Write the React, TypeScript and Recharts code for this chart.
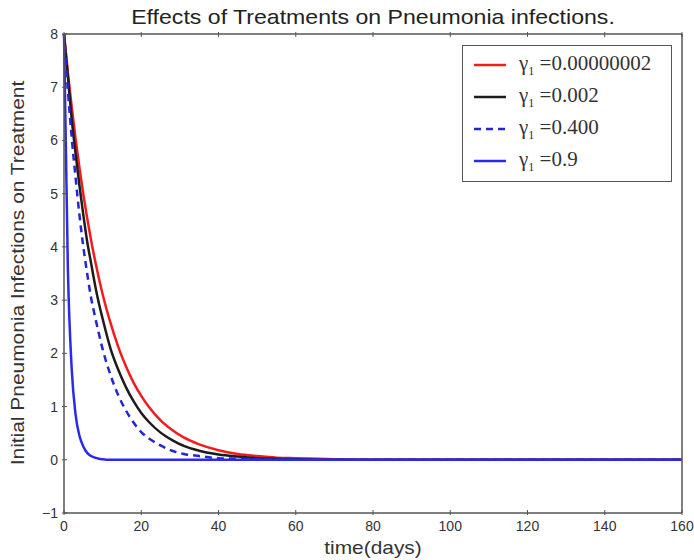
import React from "react"
import { LineChart, Line, XAxis, YAxis } from "recharts"

// days sampled along the curves
const days = [0, 1, 2, 3, 4, 5, 6, 7, 8, 9, 10, 12, 14, 16, 18, 20, 22, 25, 28, 31, 35, 40, 45, 50, 55, 60, 70, 80, 90, 100, 120, 140, 160]

// values
const gammaTiny = [8, 7.28, 6.63, 6.03, 5.49, 4.99, 4.54, 4.13, 3.76, 3.42, 3.11, 2.58, 2.13, 1.76, 1.45, 1.2, 0.99, 0.74, 0.56, 0.42, 0.29, 0.18, 0.11, 0.07, 0.04, 0.03, 0.01, 0, 0, 0, 0, 0, 0]
const gammaSmall = [8, 7.2, 6.4, 5.75, 5.15, 4.6, 4.1, 3.7, 3.3, 2.95, 2.65, 2.1, 1.7, 1.37, 1.1, 0.88, 0.71, 0.51, 0.37, 0.26, 0.17, 0.1, 0.06, 0.03, 0.02, 0.01, 0, 0, 0, 0, 0, 0, 0]
const gammaMid = [8, 6.95, 6.05, 5.3, 4.6, 4.0, 3.5, 3.05, 2.7, 2.38, 2.08, 1.6, 1.22, 0.93, 0.7, 0.52, 0.4, 0.27, 0.17, 0.11, 0.07, 0.03, 0.02, 0.01, 0, 0, 0, 0, 0, 0, 0, 0, 0]
const gammaHigh = [8, 3.6, 1.7, 0.85, 0.45, 0.25, 0.13, 0.07, 0.04, 0.02, 0.01, 0, 0, 0, 0, 0, 0, 0, 0, 0, 0, 0, 0, 0, 0, 0, 0, 0, 0, 0, 0, 0, 0]

const xTicks = [0, 20, 40, 60, 80, 100, 120, 140, 160]
const yTicks = [-1, 0, 1, 2, 3, 4, 5, 6, 7, 8]

const series = [
  { key: "tiny", label: "0.00000002", color: "#f21c1c", dash: undefined },
  { key: "small", label: "0.002", color: "#1c1c1c", dash: undefined },
  { key: "mid", label: "0.400", color: "#2424d8", dash: "7 5" },
  { key: "high", label: "0.9", color: "#2a2aee", dash: undefined },
]

const data = days.map((d, i) => ({
  day: d,
  tiny: gammaTiny[i],
  small: gammaSmall[i],
  mid: gammaMid[i],
  high: gammaHigh[i],
}))

const axisColor = "#555"
const labelColor = "#333"
const sans = "'Liberation Sans', Arial, sans-serif"

const fmt = (v: number) => (v < 0 ? "\u2212" + Math.abs(v) : String(v))

function BottomTick({ x, y, payload }: any) {
  return (
    <g>
      <line x1={x} x2={x} y1={y} y2={y - 5} stroke={axisColor} />
      <text x={x} y={y + 16} textAnchor="middle" fontSize={14} fontFamily={sans} fill={labelColor}>
        {fmt(payload.value)}
      </text>
    </g>
  )
}

function TopTick({ x, y }: any) {
  return <line x1={x} x2={x} y1={y} y2={y + 5} stroke={axisColor} />
}

function LeftTick({ x, y, payload }: any) {
  return (
    <g>
      <line x1={x} x2={x + 5} y1={y} y2={y} stroke={axisColor} />
      <text x={x - 4} y={y + 5} textAnchor="end" fontSize={14} fontFamily={sans} fill={labelColor}>
        {fmt(payload.value)}
      </text>
    </g>
  )
}

function RightTick({ x, y }: any) {
  return <line x1={x} x2={x - 5} y1={y} y2={y} stroke={axisColor} />
}

function LegendBox() {
  return (
    <div
      style={{
        position: "absolute",
        left: 462,
        top: 45,
        width: 210,
        height: 137,
        border: "1.5px solid #555",
        background: "#fff",
        boxSizing: "border-box",
        paddingTop: 3,
      }}
    >
      {series.map((s) => (
        <div key={s.key} style={{ display: "flex", alignItems: "center", height: 32 }}>
          <svg width={56} height={10}>
            <line x1={11} x2={43} y1={5} y2={5} stroke={s.color} strokeWidth={2.5} strokeDasharray={s.dash} />
          </svg>
          <span style={{ fontFamily: "'Liberation Serif', 'DejaVu Serif', serif", fontSize: 21, color: "#333" }}>
            γ<sub style={{ fontSize: 12 }}>1</sub> ={s.label}
          </span>
        </div>
      ))}
    </div>
  )
}

export default function App() {
  return (
    <div style={{ position: "absolute", left: 0, top: 0, width: 694, height: 560, background: "#fff" }}>
      <div style={{ position: "absolute", left: 0, top: 0 }}>
        <LineChart width={694} height={560} data={data} margin={{ top: 33, right: 11, bottom: 17, left: 24 }}>
          <XAxis
            dataKey="day"
            type="number"
            domain={[0, 160]}
            ticks={xTicks}
            height={30}
            tickSize={0}
            tickLine={false}
            tick={<BottomTick />}
            axisLine={{ stroke: axisColor, strokeWidth: 1.5 }}
            interval={0}
          />
          <XAxis
            xAxisId="top"
            orientation="top"
            dataKey="day"
            type="number"
            domain={[0, 160]}
            ticks={xTicks}
            height={1}
            tickSize={0}
            tickLine={false}
            tick={<TopTick />}
            axisLine={{ stroke: axisColor, strokeWidth: 1.5 }}
            interval={0}
          />
          <YAxis
            type="number"
            domain={[-1, 8]}
            ticks={yTicks}
            width={40}
            tickSize={0}
            tickLine={false}
            tick={<LeftTick />}
            axisLine={{ stroke: axisColor, strokeWidth: 1.5 }}
            interval={0}
          />
          <YAxis
            yAxisId="right"
            orientation="right"
            type="number"
            domain={[-1, 8]}
            ticks={yTicks}
            width={1}
            tickSize={0}
            tickLine={false}
            tick={<RightTick />}
            axisLine={{ stroke: axisColor, strokeWidth: 1.5 }}
            interval={0}
          />
          {series.map((s) => (
            <Line
              key={s.key}
              dataKey={s.key}
              type="monotone"
              stroke={s.color}
              strokeWidth={2.5}
              strokeDasharray={s.dash}
              dot={false}
              activeDot={false}
              isAnimationActive={false}
            />
          ))}
        </LineChart>
      </div>
      <div
        style={{
          position: "absolute",
          left: 64,
          width: 618,
          top: 5,
          textAlign: "center",
          fontFamily: sans,
          fontSize: 21,
          color: "#222",
          transform: "scaleX(1.1)",
        }}
      >
        Effects of Treatments on Pneumonia infections.
      </div>
      <div
        style={{
          position: "absolute",
          left: 64,
          width: 618,
          top: 538,
          height: 20,
          lineHeight: "20px",
          textAlign: "center",
          fontFamily: sans,
          fontSize: 19,
          color: "#333",
          transform: "scaleX(1.1)",
        }}
      >
        time(days)
      </div>
      <div
        style={{
          position: "absolute",
          left: 18 - 240,
          top: 273 - 12,
          width: 480,
          height: 24,
          lineHeight: "24px",
          textAlign: "center",
          transform: "rotate(-90deg) scaleX(1.1)",
          fontFamily: sans,
          fontSize: 19,
          color: "#333",
        }}
      >
        Initial Pneumonia Infections on Treatment
      </div>
      <LegendBox />
    </div>
  )
}
